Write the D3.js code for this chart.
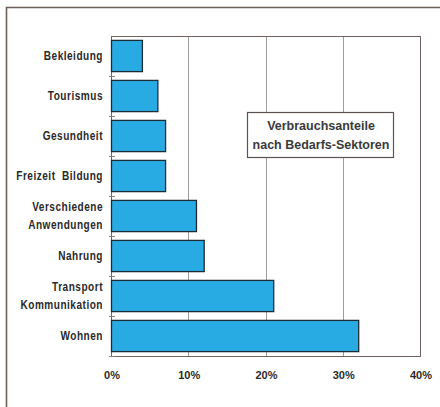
<!DOCTYPE html>
<html><head><meta charset="utf-8">
<script src="https://cdn.jsdelivr.net/npm/d3@7/dist/d3.min.js"></script>
<style>
body{margin:0;background:#fff;}
svg{display:block;font-family:"Liberation Sans",Arial,sans-serif;}
</style></head>
<body><svg id="c" width="440" height="407"></svg>
<script>
const categories = [["Bekleidung"],["Tourismus"],["Gesundheit"],["Freizeit  Bildung"],["Verschiedene","Anwendungen"],["Nahrung"],["Transport","Kommunikation"],["Wohnen"]];
const values = [4, 6, 7, 7, 11, 12, 21, 32];
const tickValues = [0, 10, 20, 30, 40];
const tickLabels = ["0%","10%","20%","30%","40%"];
const legendLines = ["Verbrauchsanteile","nach Bedarfs-Sektoren"];

const svg = d3.select("#c");
const pL=111, pR=420, pT=36, pB=356;
const x = d3.scaleLinear().domain([0,40]).range([pL,pR]);
const y = d3.scaleBand().domain(d3.range(categories.length)).range([pT,pB]).paddingInner(0.22).paddingOuter(0.11);

// outer frame
svg.append("path").attr("d","M6.5,407 V7.5 H440").attr("fill","none").attr("stroke","#6e5e5a").attr("stroke-width",1.6);

// gridlines
svg.append("g").selectAll("line").data(tickValues.slice(1,4)).join("line")
  .attr("x1",d=>Math.round(x(d))+0.5).attr("x2",d=>Math.round(x(d))+0.5)
  .attr("y1",pT).attr("y2",pB).attr("stroke","#a09a98").attr("stroke-width",1);

// plot border
svg.append("rect").attr("x",pL+0.5).attr("y",pT+0.5).attr("width",pR-pL).attr("height",pB-pT)
  .attr("fill","none").attr("stroke","#6e6462").attr("stroke-width",1);

// bars
svg.append("g").selectAll("rect").data(values).join("rect")
  .attr("x",x(0)+0.5).attr("y",(d,i)=>y(i))
  .attr("width",d=>x(d)-x(0)).attr("height",y.bandwidth())
  .attr("fill","#28aae2").attr("stroke","#1f2b33").attr("stroke-width",1.3);

// category ticks at band boundaries
svg.append("g").selectAll("line").data(d3.range(1,categories.length+1)).join("line")
  .attr("x1",pL-2).attr("x2",pL+4)
  .attr("y1",d=>Math.round(pT+(pB-pT)/categories.length*d)+0.5)
  .attr("y2",d=>Math.round(pT+(pB-pT)/categories.length*d)+0.5)
  .attr("stroke","#8a8280").attr("stroke-width",1);

// category labels (condensed bold)
const sx = 0.82;
const lab = svg.append("g").attr("transform",`translate(103,0) scale(${sx},1)`)
  .attr("font-size","12.3px").attr("font-weight","bold").attr("fill","#2a2a2a").attr("text-anchor","end");
categories.forEach((lines,i)=>{
  const cy = y(i)+y.bandwidth()/2;
  const n = lines.length;
  lines.forEach((t,j)=>{
    lab.append("text").attr("x",0).attr("y",cy+(j-(n-1)/2)*18+4.5)
      .attr("letter-spacing","0.6px").style("white-space","pre").text(t);
  });
});

// x tick labels
svg.append("g").attr("font-size","11px").attr("font-weight","bold").attr("fill","#2a2a2a").attr("text-anchor","middle")
  .selectAll("text").data(tickValues).join("text")
  .attr("x",d=>x(d)+1).attr("y",379).text((d,i)=>tickLabels[i]);

// legend
const lx=247, ly=112, lw=146, lh=45;
svg.append("rect").attr("x",lx+0.5).attr("y",ly+0.5).attr("width",lw).attr("height",lh)
  .attr("fill","#fff").attr("stroke","#5e5250").attr("stroke-width",1.2);
svg.append("g").attr("font-size","12.5px").attr("font-weight","bold").attr("fill","#3a3a3a").attr("text-anchor","middle")
  .selectAll("text").data(legendLines).join("text")
  .attr("x",lx+lw/2+1).attr("y",(d,i)=>ly+18+i*19).text(d=>d);
</script></body></html>
